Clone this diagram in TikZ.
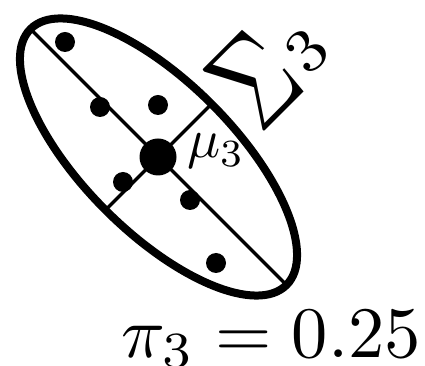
\documentclass[tikz,border=0pt]{standalone}
\usetikzlibrary{calc}
\begin{document}
\begin{tikzpicture}[x=1pt,y=1pt,
  dotsmall/.style={circle,fill=black,inner sep=0pt,minimum size=20pt},
  dotbig/.style={circle,fill=black,inner sep=0pt,minimum size=37pt},
  axisline/.style={line width=3.3pt},
  lbl/.style={inner sep=0pt}]
\useasboundingbox (0,0) rectangle (425,366);
\coordinate (c) at (158.5,209);
\draw[line width=8pt, rotate around={-45:(c)}] (c) ellipse [x radius=181, y radius=75];
\coordinate (a1) at ($(c)+(135:180)$);
\coordinate (a2) at ($(c)+(-45:180)$);
\coordinate (b1) at ($(c)+(45:74)$);
\coordinate (b2) at ($(c)+(-135:74)$);
\draw[axisline] (a1) -- (a2);
\draw[axisline] (b1) -- (b2);
\node[dotbig] (mu) at (158,209) {};
\node[dotsmall] (p1) at (65,324) {};
\node[dotsmall] (p2) at (100,259) {};
\node[dotsmall] (p3) at (158,261) {};
\node[dotsmall] (p4) at (123,184) {};
\node[dotsmall] (p5) at (190,166) {};
\node[dotsmall] (p6) at (216,103) {};
\node[lbl,anchor=base west,scale=5.5] (mulbl) at (186,208) {$\mu_3$};
\node[lbl,rotate=45,anchor=center,scale=8.8] (siglbl) at (268.5,300) {$\scalebox{1.1}[1.45]{$\Sigma$}\kern0.55pt\raisebox{0.8pt}{$\scriptstyle 3$}$};
\node[lbl,anchor=base west,scale=7.25] (pilbl) at (120,9) {$\pi_3 = 0.25$};
\end{tikzpicture}
\end{document}
